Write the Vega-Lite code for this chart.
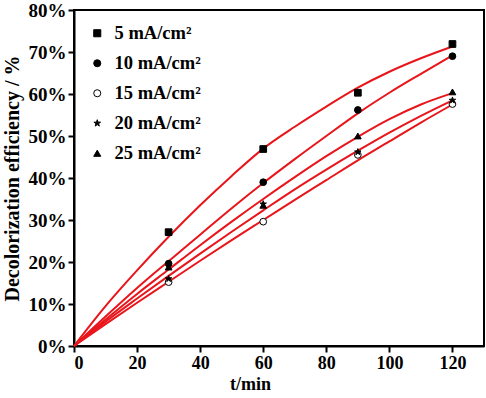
{
  "$schema": "https://vega.github.io/schema/vega-lite/v6.json",
  "width": 410,
  "height": 336,
  "autosize": {"type": "none"},
  "padding": {"left": 74, "top": 10, "right": 2, "bottom": 52},
  "background": "white",
  "config": {
    "view": {"stroke": "black", "strokeWidth": 2},
    "font": "Liberation Serif",
    "axis": {
      "domainColor": "black",
      "domainWidth": 2,
      "tickColor": "black",
      "tickWidth": 2,
      "grid": false,
      "labelFont": "Liberation Serif",
      "labelFontWeight": "bold",
      "labelFontSize": 18,
      "labelColor": "black",
      "titleFont": "Liberation Serif",
      "titleFontWeight": "bold",
      "titleFontSize": 18,
      "titleColor": "black"
    }
  },
  "datasets": {
    "measured": [
      {"t": 30, "eff": 27.1, "series": "5 mA/cm²"},
      {"t": 60, "eff": 46.9, "series": "5 mA/cm²"},
      {"t": 90, "eff": 60.3, "series": "5 mA/cm²"},
      {"t": 120, "eff": 71.9, "series": "5 mA/cm²"},
      {"t": 30, "eff": 19.6, "series": "10 mA/cm²"},
      {"t": 60, "eff": 39.0, "series": "10 mA/cm²"},
      {"t": 90, "eff": 56.2, "series": "10 mA/cm²"},
      {"t": 120, "eff": 69.0, "series": "10 mA/cm²"},
      {"t": 30, "eff": 15.2, "series": "15 mA/cm²"},
      {"t": 60, "eff": 29.6, "series": "15 mA/cm²"},
      {"t": 90, "eff": 45.5, "series": "15 mA/cm²"},
      {"t": 120, "eff": 57.6, "series": "15 mA/cm²"},
      {"t": 30, "eff": 16.0, "series": "20 mA/cm²"},
      {"t": 60, "eff": 33.8, "series": "20 mA/cm²"},
      {"t": 90, "eff": 46.2, "series": "20 mA/cm²"},
      {"t": 120, "eff": 58.5, "series": "20 mA/cm²"},
      {"t": 30, "eff": 18.8, "series": "25 mA/cm²"},
      {"t": 60, "eff": 33.5, "series": "25 mA/cm²"},
      {"t": 90, "eff": 50.0, "series": "25 mA/cm²"},
      {"t": 120, "eff": 60.5, "series": "25 mA/cm²"}
    ],
    "fitted": [
      {"t": 0, "eff": 0, "series": "5 mA/cm²"},
      {"t": 10, "eff": 9.5, "series": "5 mA/cm²"},
      {"t": 20, "eff": 18.0, "series": "5 mA/cm²"},
      {"t": 30, "eff": 26.0, "series": "5 mA/cm²"},
      {"t": 40, "eff": 33.5, "series": "5 mA/cm²"},
      {"t": 50, "eff": 40.5, "series": "5 mA/cm²"},
      {"t": 60, "eff": 47.0, "series": "5 mA/cm²"},
      {"t": 70, "eff": 52.2, "series": "5 mA/cm²"},
      {"t": 80, "eff": 57.0, "series": "5 mA/cm²"},
      {"t": 90, "eff": 61.5, "series": "5 mA/cm²"},
      {"t": 100, "eff": 65.3, "series": "5 mA/cm²"},
      {"t": 110, "eff": 68.5, "series": "5 mA/cm²"},
      {"t": 120, "eff": 71.3, "series": "5 mA/cm²"},
      {"t": 0, "eff": 0, "series": "10 mA/cm²"},
      {"t": 10, "eff": 7.0, "series": "10 mA/cm²"},
      {"t": 20, "eff": 13.8, "series": "10 mA/cm²"},
      {"t": 30, "eff": 20.2, "series": "10 mA/cm²"},
      {"t": 40, "eff": 26.5, "series": "10 mA/cm²"},
      {"t": 50, "eff": 32.8, "series": "10 mA/cm²"},
      {"t": 60, "eff": 38.8, "series": "10 mA/cm²"},
      {"t": 70, "eff": 44.5, "series": "10 mA/cm²"},
      {"t": 80, "eff": 50.0, "series": "10 mA/cm²"},
      {"t": 90, "eff": 55.4, "series": "10 mA/cm²"},
      {"t": 100, "eff": 60.3, "series": "10 mA/cm²"},
      {"t": 110, "eff": 64.8, "series": "10 mA/cm²"},
      {"t": 120, "eff": 69.2, "series": "10 mA/cm²"},
      {"t": 0, "eff": 0, "series": "15 mA/cm²"},
      {"t": 10, "eff": 5.2, "series": "15 mA/cm²"},
      {"t": 20, "eff": 10.3, "series": "15 mA/cm²"},
      {"t": 30, "eff": 15.3, "series": "15 mA/cm²"},
      {"t": 40, "eff": 20.3, "series": "15 mA/cm²"},
      {"t": 50, "eff": 25.2, "series": "15 mA/cm²"},
      {"t": 60, "eff": 30.0, "series": "15 mA/cm²"},
      {"t": 70, "eff": 34.8, "series": "15 mA/cm²"},
      {"t": 80, "eff": 39.5, "series": "15 mA/cm²"},
      {"t": 90, "eff": 44.2, "series": "15 mA/cm²"},
      {"t": 100, "eff": 48.7, "series": "15 mA/cm²"},
      {"t": 110, "eff": 53.2, "series": "15 mA/cm²"},
      {"t": 120, "eff": 57.5, "series": "15 mA/cm²"},
      {"t": 0, "eff": 0, "series": "20 mA/cm²"},
      {"t": 10, "eff": 5.8, "series": "20 mA/cm²"},
      {"t": 20, "eff": 11.3, "series": "20 mA/cm²"},
      {"t": 30, "eff": 16.7, "series": "20 mA/cm²"},
      {"t": 40, "eff": 22.0, "series": "20 mA/cm²"},
      {"t": 50, "eff": 27.2, "series": "20 mA/cm²"},
      {"t": 60, "eff": 32.3, "series": "20 mA/cm²"},
      {"t": 70, "eff": 37.3, "series": "20 mA/cm²"},
      {"t": 80, "eff": 42.0, "series": "20 mA/cm²"},
      {"t": 90, "eff": 46.5, "series": "20 mA/cm²"},
      {"t": 100, "eff": 50.8, "series": "20 mA/cm²"},
      {"t": 110, "eff": 54.8, "series": "20 mA/cm²"},
      {"t": 120, "eff": 58.5, "series": "20 mA/cm²"},
      {"t": 0, "eff": 0, "series": "25 mA/cm²"},
      {"t": 10, "eff": 6.3, "series": "25 mA/cm²"},
      {"t": 20, "eff": 12.4, "series": "25 mA/cm²"},
      {"t": 30, "eff": 18.2, "series": "25 mA/cm²"},
      {"t": 40, "eff": 24.0, "series": "25 mA/cm²"},
      {"t": 50, "eff": 29.6, "series": "25 mA/cm²"},
      {"t": 60, "eff": 35.0, "series": "25 mA/cm²"},
      {"t": 70, "eff": 40.2, "series": "25 mA/cm²"},
      {"t": 80, "eff": 45.2, "series": "25 mA/cm²"},
      {"t": 90, "eff": 49.8, "series": "25 mA/cm²"},
      {"t": 100, "eff": 54.0, "series": "25 mA/cm²"},
      {"t": 110, "eff": 57.5, "series": "25 mA/cm²"},
      {"t": 120, "eff": 60.2, "series": "25 mA/cm²"}
    ]
  },
  "layer": [
    {
      "data": {"name": "fitted"},
      "mark": {"type": "line", "color": "#e8151b", "strokeWidth": 2, "interpolate": "monotone"},
      "encoding": {
        "x": {
          "field": "t", "type": "quantitative",
          "scale": {"domain": [0, 130], "nice": false, "zero": true},
          "axis": {
            "title": "t/min",
            "values": [0, 10, 20, 30, 40, 50, 60, 70, 80, 90, 100, 110, 120],
            "labelExpr": "datum.value % 20 === 0 ? datum.label : ''",
            "tickSize": {"condition": {"test": "datum.value % 20 !== 0", "value": 3}, "value": 6},
            "labelPadding": 2,
            "titleX": 176,
            "titlePadding": 3
          }
        },
        "y": {
          "field": "eff", "type": "quantitative",
          "scale": {"domain": [0, 80], "nice": false},
          "axis": {
            "title": "Decolorization efficiency / %",
            "titleFontSize": 20,
            "labelFontSize": 19,
            "values": [0, 5, 10, 15, 20, 25, 30, 35, 40, 45, 50, 55, 60, 65, 70, 75, 80],
            "labelExpr": "datum.value % 10 === 0 ? datum.value + '%' : ''",
            "tickSize": {"condition": {"test": "datum.value % 10 !== 0", "value": 3}, "value": 6},
            "labelPadding": 2,
            "titlePadding": 6
          }
        },
        "detail": {"field": "series", "type": "nominal"}
      }
    },
    {
      "data": {"name": "measured"},
      "mark": {"type": "point", "strokeWidth": 1, "opacity": 1},
      "encoding": {
        "x": {"field": "t", "type": "quantitative"},
        "y": {"field": "eff", "type": "quantitative"},
        "shape": {
          "field": "series", "type": "nominal",
          "scale": {
            "domain": ["5 mA/cm²", "10 mA/cm²", "15 mA/cm²", "20 mA/cm²", "25 mA/cm²"],
            "range": ["square", "circle", "circle", "M0,-1L0.2245,-0.309L0.951,-0.309L0.363,0.118L0.588,0.809L0,0.382L-0.588,0.809L-0.363,0.118L-0.951,-0.309L-0.2245,-0.309Z", "triangle-up"]
          },
          "legend": {
            "title": null,
            "orient": "none",
            "legendX": 14,
            "legendY": 14,
            "padding": 0,
            "labelFont": "Liberation Serif",
            "labelFontWeight": "bold",
            "labelFontSize": 18.5,
            "labelColor": "black",
            "labelOffset": 8,
            "rowPadding": 11,
            "symbolSize": 50,
            "symbolStrokeWidth": 1
          }
        },
        "fill": {
          "field": "series", "type": "nominal",
          "scale": {
            "domain": ["5 mA/cm²", "10 mA/cm²", "15 mA/cm²", "20 mA/cm²", "25 mA/cm²"],
            "range": ["black", "black", "white", "black", "black"]
          }
        },
        "stroke": {
          "field": "series", "type": "nominal",
          "scale": {
            "domain": ["5 mA/cm²", "10 mA/cm²", "15 mA/cm²", "20 mA/cm²", "25 mA/cm²"],
            "range": ["black", "black", "black", "black", "black"]
          }
        },
        "size": {"value": 45}
      }
    }
  ]
}
